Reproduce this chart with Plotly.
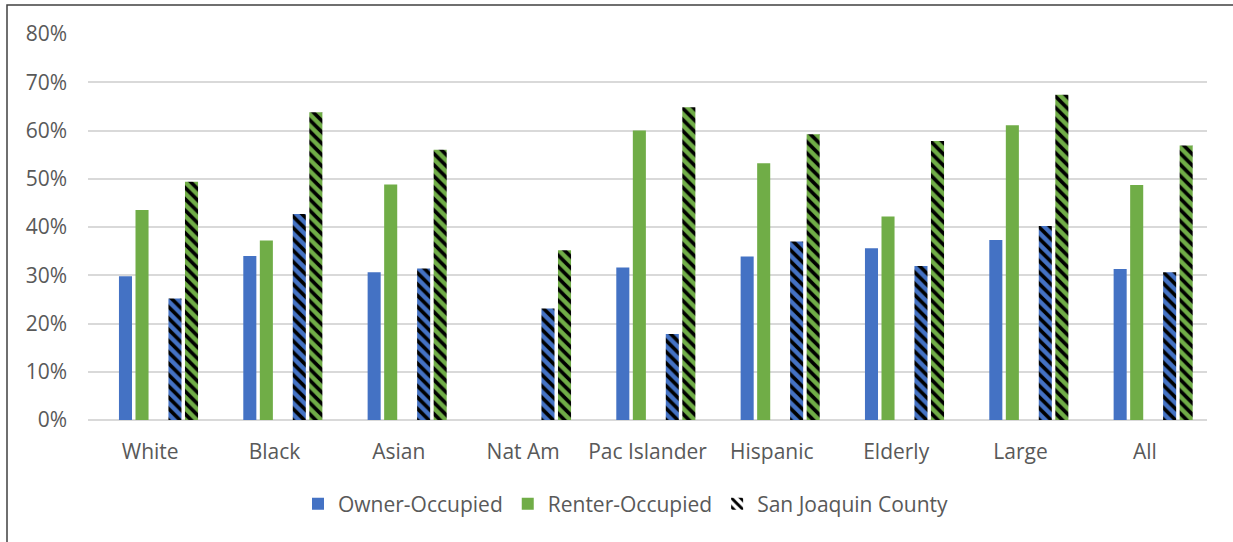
import plotly.graph_objects as go

# Housing cost burden by household type: share of households, 0-1 scale
categories = ["White", "Black", "Asian", "Nat Am", "Pac Islander",
              "Hispanic", "Elderly", "Large", "All"]

owner_occupied = [0.298, 0.340, 0.306, None, 0.316, 0.339, 0.356, 0.373, 0.313]
renter_occupied = [0.435, 0.372, 0.488, None, 0.600, 0.532, 0.422, 0.611, 0.487]
county_owner = [0.252, 0.427, 0.314, 0.231, 0.178, 0.370, 0.319, 0.402, 0.306]
county_renter = [0.494, 0.638, 0.560, 0.352, 0.648, 0.592, 0.578, 0.674, 0.569]

y_ticks = [0, 0.1, 0.2, 0.3, 0.4, 0.5, 0.6, 0.7, 0.8]

BLUE = "#4472C4"
GREEN = "#70AD47"
TEXT = "#595959"
GRID = "#D9D9D9"
FONT = "Open Sans"
FS = 21

W, H = 1233, 542
L, R, T, B = 88, 26, 34, 122

BAR_W = 0.105
HATCH = dict(shape="\\", fgcolor="black", size=8, solidity=0.45, fillmode="replace")

fig = go.Figure()

fig.add_trace(go.Bar(
    x=categories, y=owner_occupied, name="Owner-Occupied",
    width=BAR_W, offset=-0.251,
    marker=dict(color=BLUE, line=dict(width=0)),
))
fig.add_trace(go.Bar(
    x=categories, y=renter_occupied, name="Renter-Occupied",
    width=BAR_W, offset=-0.118,
    marker=dict(color=GREEN, line=dict(width=0)),
))
fig.add_trace(go.Bar(
    x=categories, y=county_owner, name="San Joaquin County (owner)",
    width=BAR_W, offset=0.147, showlegend=False,
    marker=dict(color=BLUE, line=dict(width=0),
                pattern=dict(bgcolor=BLUE, **HATCH)),
))
fig.add_trace(go.Bar(
    x=categories, y=county_renter, name="San Joaquin County (renter)",
    width=BAR_W, offset=0.280, showlegend=False,
    marker=dict(color=GREEN, line=dict(width=0),
                pattern=dict(bgcolor=GREEN, **HATCH)),
))
# Legend key for the hatched county bars
fig.add_trace(go.Bar(
    x=[categories[0]], y=[None], name="San Joaquin County",
    width=BAR_W, offset=0,
    marker=dict(color="white", line=dict(width=0),
                pattern=dict(bgcolor="white", **HATCH)),
))

# Outer chart frame
pw, ph = W - L - R, H - T - B
fig.add_shape(
    type="rect", xref="paper", yref="paper",
    x0=(7 - L) / pw, x1=(W + 10 - L) / pw,
    y0=(H - B - (H + 20)) / ph, y1=(H - B - 5) / ph,
    line=dict(color="#404040", width=1.5), fillcolor="rgba(0,0,0,0)",
    layer="below",
)

fig.update_layout(
    width=W, height=H,
    margin=dict(l=L, r=R, t=T, b=B),
    barmode="overlay",
    plot_bgcolor="white", paper_bgcolor="white",
    font=dict(family=FONT, size=FS, color=TEXT),
    showlegend=True,
    legend=dict(
        orientation="h", x=(626 - L) / pw, xanchor="center",
        y=(H - B - 504) / ph, yanchor="middle",
        font=dict(family=FONT, size=FS, color=TEXT),
        itemclick=False, itemdoubleclick=False,
        traceorder="normal",
    ),
    xaxis=dict(
        showgrid=False, zeroline=False, showline=False,
        ticks="", tickfont=dict(size=FS, color=TEXT),
        ticklabelstandoff=17,
        range=[-0.5, len(categories) - 0.5],
    ),
    yaxis=dict(
        range=[0, 0.8], tickvals=y_ticks, tickformat=".0%",
        showgrid=True, gridcolor=GRID, gridwidth=1.5,
        zeroline=True, zerolinecolor=GRID, zerolinewidth=1.5,
        showline=False, ticks="", tickfont=dict(size=FS, color=TEXT),
        ticklabelstandoff=20,
    ),
)

fig.write_html("out.html")
